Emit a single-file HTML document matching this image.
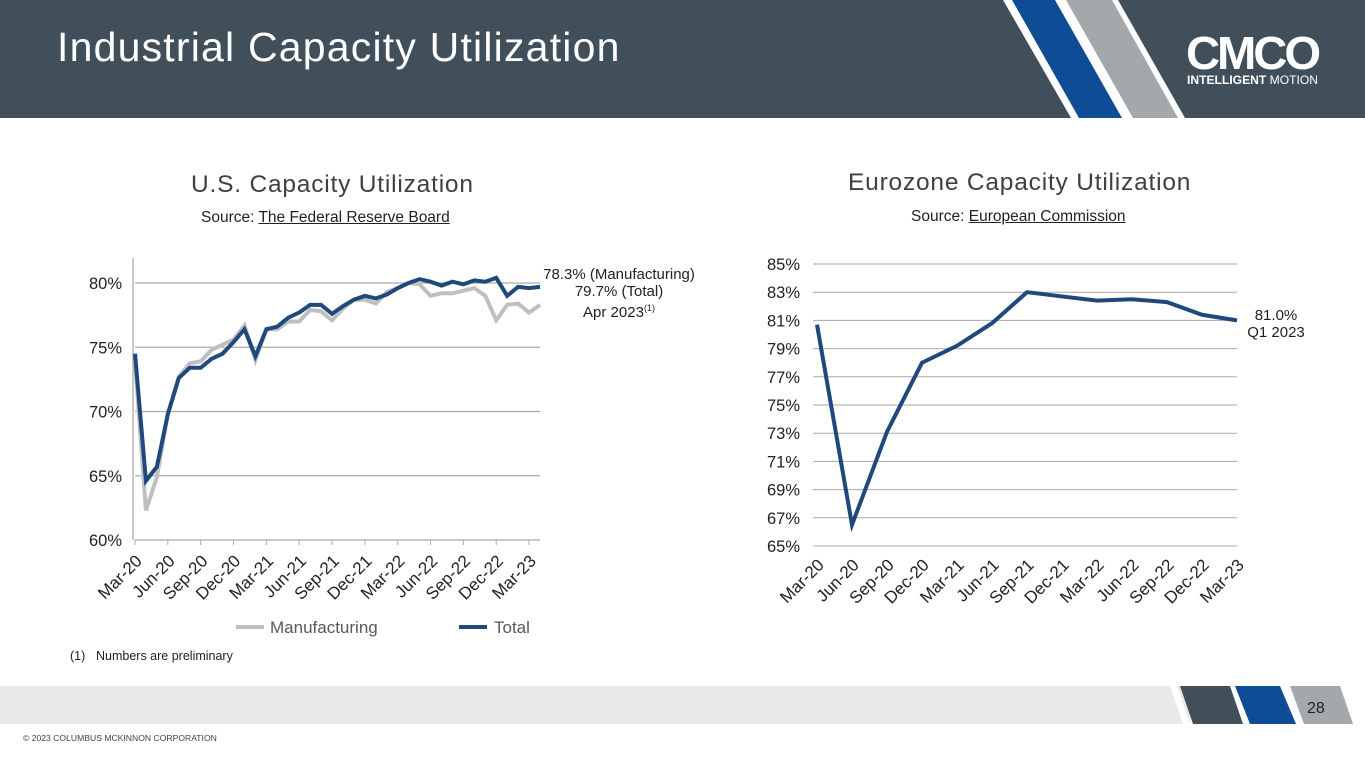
<!DOCTYPE html>
<html><head><meta charset="utf-8"><style>
body{margin:0;width:1365px;height:768px;position:relative;background:#fff;font-family:"Liberation Sans",sans-serif;overflow:hidden}
.abs{position:absolute}
</style></head><body>
<svg class="abs" style="left:0;top:0" width="1365" height="768">
<rect x="0" y="0" width="1365" height="118" fill="#414f5a"/>
<polygon points="1003,0 1062,0 1130,118 1071,118" fill="#fff"/>
<polygon points="1012,0 1055,0 1122,118 1079,118" fill="#0f4c96"/>
<polygon points="1060,0 1118,0 1185,118 1127,118" fill="#fff"/>
<polygon points="1066,0 1112,0 1178,118 1133,118" fill="#a4a8ab"/>
<text x="1186" y="69" fill="#fff" font-size="46" font-weight="bold" font-family="Liberation Sans" letter-spacing="-3" textLength="132" lengthAdjust="spacingAndGlyphs">CMCO</text>
<text x="1187" y="84" fill="#fff" font-size="11.5" font-family="Liberation Sans" textLength="131" lengthAdjust="spacingAndGlyphs"><tspan font-weight="bold">INTELLIGENT</tspan> MOTION</text>
<rect x="0" y="686" width="1190" height="38" fill="#e8e9eb"/>
<polygon points="1170,686 1177,686 1190,724 1183,724" fill="#fff"/>
<polygon points="1180,686 1230,686 1243,724 1193,724" fill="#414f5a"/>
<polygon points="1235,686 1280,686 1296,724 1250,724" fill="#0f4c96"/>
<polygon points="1290,686 1340,686 1353,724 1304,724" fill="#a4a8ab"/>
<text x="1307" y="713" font-size="16" fill="#222">28</text>
</svg>
<div class="abs" style="left:57px;top:24px;font-size:41px;color:#fff;letter-spacing:1.2px">Industrial Capacity Utilization</div>
<div class="abs" style="left:191px;top:171px;font-size:24.5px;color:#404040;letter-spacing:0.8px">U.S. Capacity Utilization</div>
<div class="abs" style="left:201px;top:209px;font-size:15.5px;color:#222">Source: <u>The Federal Reserve Board</u></div>
<div class="abs" style="left:848px;top:169px;font-size:24.5px;color:#404040;letter-spacing:0.8px">Eurozone Capacity Utilization</div>
<div class="abs" style="left:911px;top:208px;font-size:15.5px;color:#222">Source: <u>European Commission</u></div>
<div class="abs" style="left:70px;top:649px;font-size:12.5px;color:#222">(1)<span style="position:absolute;left:26px;white-space:nowrap">Numbers are preliminary</span></div>
<div class="abs" style="left:23px;top:733px;font-size:8.6px;color:#444">© 2023 COLUMBUS MCKINNON CORPORATION</div>
<div class="abs" style="left:534px;top:266px;width:170px;text-align:center;font-size:15px;line-height:17px;color:#222">78.3% (Manufacturing)<br>79.7% (Total)<br>Apr 2023<sup style="font-size:9px">(1)</sup></div>
<div class="abs" style="left:1236px;top:307px;width:80px;text-align:center;font-size:15px;line-height:17px;color:#222">81.0%<br>Q1 2023</div>
<svg id="us" class="abs" style="left:0;top:0" width="1365" height="768"></svg>
<script>
const usMfg=[74.0,62.3,64.9,69.8,72.7,73.75,73.9,74.8,75.2,75.6,76.7,74.0,76.4,76.4,77.0,77.0,77.9,77.8,77.1,78.0,78.7,78.7,78.4,79.3,79.6,80.0,79.9,79.0,79.2,79.2,79.4,79.6,79.0,77.1,78.3,78.4,77.7,78.3];
const usTotal=[74.5,64.6,65.7,69.8,72.6,73.4,73.4,74.1,74.5,75.4,76.4,74.3,76.4,76.6,77.3,77.7,78.3,78.3,77.6,78.2,78.7,79.0,78.8,79.1,79.6,80.0,80.3,80.1,79.8,80.1,79.9,80.2,80.1,80.4,79.0,79.7,79.6,79.7];
const usXLabels=["Mar-20","Jun-20","Sep-20","Dec-20","Mar-21","Jun-21","Sep-21","Dec-21","Mar-22","Jun-22","Sep-22","Dec-22","Mar-23"];
const usYTicks=[60,65,70,75,80];
const euQuarters=["Mar-20","Jun-20","Sep-20","Dec-20","Mar-21","Jun-21","Sep-21","Dec-21","Mar-22","Jun-22","Sep-22","Dec-22","Mar-23"];
const euValues=[80.7,66.5,73.1,78.0,79.2,80.8,83.0,82.7,82.4,82.5,82.3,81.4,81.0];
const euYTicks=[65,67,69,71,73,75,77,79,81,83,85];
const NS="http://www.w3.org/2000/svg";
const svg=document.getElementById('us');
function mk(tag,attrs){const e=document.createElementNS(NS,tag);for(const k in attrs)e.setAttribute(k,attrs[k]);svg.appendChild(e);return e;}
const ux=i=>135+i*(405/37), uy=v=>540-(v-60)*(257/20);
usYTicks.forEach(t=>{
 const l=mk('line',{x1:135,x2:540,y1:uy(t),y2:uy(t),stroke:'#aaa','stroke-width':1.3});
 
 const tx=mk('text',{x:122,y:uy(t)+6,'text-anchor':'end','font-size':16.5,fill:'#222','font-family':'Liberation Sans'});
 tx.textContent=t+'%';
});
mk('line',{x1:133,x2:133,y1:258,y2:540,stroke:'#aaa','stroke-width':1.3});
usXLabels.forEach((lab,j)=>{
 const x=ux(j*3);
 mk('line',{x1:x,x2:x,y1:540,y2:545,stroke:'#aaa'});
 const tx=mk('text',{x:x+8,y:562,'text-anchor':'end','font-size':17,fill:'#222','font-family':'Liberation Sans',transform:`rotate(-45 ${x+8} 562)`});
 tx.textContent=lab;
});
const pm=mk('polyline',{points:usMfg.map((v,i)=>ux(i)+','+uy(v)).join(' '),fill:'none',stroke:'#bfbfbf','stroke-width':4});

const pt=mk('polyline',{points:usTotal.map((v,i)=>ux(i)+','+uy(v)).join(' '),fill:'none',stroke:'#1f497d','stroke-width':4});

mk('line',{x1:236,x2:264,y1:627,y2:627,stroke:'#bfbfbf','stroke-width':4});
let lt=mk('text',{x:270,y:633,'font-size':17,fill:'#595959','font-family':'Liberation Sans'});lt.textContent='Manufacturing';

mk('line',{x1:459,x2:487,y1:627,y2:627,stroke:'#1f497d','stroke-width':4});
lt=mk('text',{x:494,y:633,'font-size':17,fill:'#595959','font-family':'Liberation Sans'});lt.textContent='Total';

const ex=i=>817+i*35, ey=v=>546-(v-65)*(282/20);
euYTicks.forEach(t=>{
 const l=mk('line',{x1:813,x2:1237,y1:ey(t),y2:ey(t),stroke:'#aaa','stroke-width':1});
 
 const tx=mk('text',{x:800,y:ey(t)+6,'text-anchor':'end','font-size':16.5,fill:'#222','font-family':'Liberation Sans'});
 tx.textContent=t+'%';
});
euQuarters.forEach((lab,i)=>{
 const x=ex(i);
 const tx=mk('text',{x:x+8,y:566,'text-anchor':'end','font-size':17,fill:'#222','font-family':'Liberation Sans',transform:`rotate(-45 ${x+8} 566)`});
 tx.textContent=lab;
});
const pe=mk('polyline',{points:euValues.map((v,i)=>ex(i)+','+ey(v)).join(' '),fill:'none',stroke:'#1f497d','stroke-width':4});

</script>
</body></html>
